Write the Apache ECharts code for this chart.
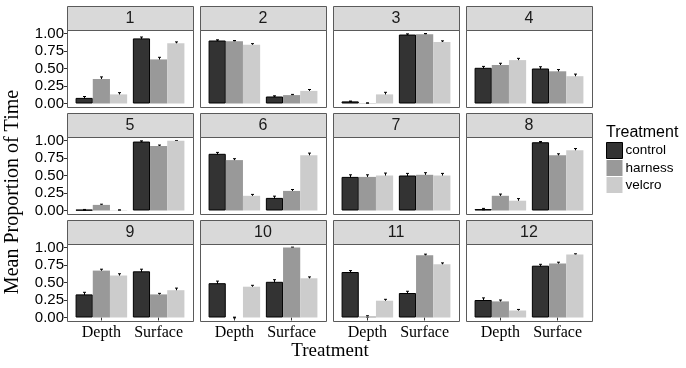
<!DOCTYPE html>
<html>
<head>
<meta charset="utf-8">
<script src="https://cdn.jsdelivr.net/npm/echarts@6.0.0/dist/echarts.min.js"></script>
<style>
  html, body { margin: 0; padding: 0; background: #fff; }
  #chart { width: 686px; height: 368px; }
</style>
</head>
<body>
<div id="chart"></div>
<script>
const panels = ['1', '2', '3', '4', '5', '6', '7', '8', '9', '10', '11', '12'];
const categories = ['Depth', 'Surface'];
const treatments = ['control', 'harness', 'velcro'];
const yTicks = ['0.00', '0.25', '0.50', '0.75', '1.00'];

// mean proportion per panel: [Depth, Surface]
const control = [[0.08, 0.93], [0.90, 0.10], [0.03, 0.985], [0.51, 0.50], [0.01, 0.985], [0.81, 0.18],
                 [0.48, 0.50], [0.02, 0.975], [0.33, 0.66], [0.49, 0.51], [0.65, 0.35], [0.25, 0.74]];
const harness = [[0.35, 0.63], [0.89, 0.12], [0.005, 0.99], [0.55, 0.46], [0.08, 0.92], [0.72, 0.28],
                 [0.48, 0.51], [0.21, 0.79], [0.67, 0.33], [0, 1.0], [0.015, 0.89], [0.23, 0.77]];
const velcro = [[0.13, 0.86], [0.84, 0.18], [0.13, 0.88], [0.62, 0.39], [0.005, 0.995], [0.21, 0.79],
                [0.50, 0.50], [0.14, 0.86], [0.60, 0.39], [0.44, 0.56], [0.24, 0.76], [0.10, 0.90]];

// standard errors, same layout
const controlSe = [[0.02, 0.02], [0.01, 0.01], [0.005, 0.01], [0.02, 0.025], [0.005, 0.01], [0.02, 0.025],
                   [0.03, 0.03], [0.01, 0.01], [0.03, 0.03], [0.03, 0.03], [0.02, 0.025], [0.03, 0.02]];
const harnessSe = [[0.03, 0.03], [0.01, 0.01], [0.005, 0.01], [0.025, 0.025], [0.01, 0.015], [0.02, 0.02],
                   [0.03, 0.03], [0.025, 0.02], [0.02, 0.015], [0.005, 0.005], [0.01, 0.015], [0.02, 0.02]];
const velcroSe = [[0.025, 0.02], [0.015, 0.02], [0.03, 0.015], [0.025, 0.03], [0.005, 0.005], [0.02, 0.03],
                  [0.035, 0.03], [0.03, 0.025], [0.025, 0.03], [0.02, 0.02], [0.02, 0.02], [0.015, 0.01]];

const means = [control, harness, velcro];
const ses = [controlSe, harnessSe, velcroSe];
const fills = ['#333333', '#999999', '#cccccc'];

const SANS = '"Liberation Sans", Arial, sans-serif';
const SERIF = '"Liberation Serif", "Times New Roman", serif';

// facet layout
const PANEL_W = 126;
const PLOT_H = 77;
const STRIP_H = 24;
const colX = [67, 200, 333, 466];
const rowY = [30, 137, 244];
const padX = PANEL_W * 0.1 / 2.2;   // ggplot discrete expansion
const padY = PLOT_H * 0.05 / 1.1;   // ggplot continuous expansion

const chart = echarts.init(document.getElementById('chart'));

const grids = [], xAxes = [], yAxes = [], series = [], graphics = [];

panels.forEach((label, p) => {
  const row = Math.floor(p / 4), col = p % 4;
  const px = colX[col], py = rowY[row];
  const bottomRow = row === 2, firstCol = col === 0;

  grids.push({
    left: px + padX, top: py + padY,
    width: PANEL_W - 2 * padX, height: PLOT_H - 2 * padY,
  });

  xAxes.push({
    type: 'category', gridIndex: p, data: categories,
    offset: padY,
    axisLine: { show: false },
    axisTick: { show: bottomRow, alignWithLabel: true, length: 3, lineStyle: { color: '#333' } },
    axisLabel: {
      show: bottomRow, interval: 0, hideOverlap: false,
      fontFamily: SERIF, fontSize: 16, color: '#000', margin: 4,
    },
    splitLine: { show: false },
  });

  yAxes.push({
    type: 'value', gridIndex: p, min: 0, max: 1, interval: 0.25,
    offset: padX,
    axisLine: { show: false },
    axisTick: { show: firstCol, length: 3, lineStyle: { color: '#333' } },
    axisLabel: {
      show: firstCol, fontFamily: SANS, fontSize: 15, color: '#000', margin: 3,
      formatter: (v) => yTicks[Math.round(v / 0.25)],
    },
    splitLine: { show: false },
  });

  treatments.forEach((t, i) => {
    series.push({
      name: t, type: 'bar', xAxisIndex: p, yAxisIndex: p,
      data: means[i][p],
      barWidth: '30%', barGap: '0%',
      itemStyle: {
        color: fills[i],
        borderColor: i === 0 ? '#000' : fills[i],
        borderWidth: i === 0 ? 1 : 0,
      },
      emphasis: { disabled: true },
    });
  });

  const errData = [];
  treatments.forEach((t, i) => {
    categories.forEach((c, k) => {
      errData.push([k, means[i][p][k], ses[i][p][k], i]);
    });
  });
  series.push({
    name: 'se', type: 'custom', xAxisIndex: p, yAxisIndex: p, clip: false,
    data: errData,
    renderItem: (params, api) => {
      const k = api.value(0), m = api.value(1), se = api.value(2), i = api.value(3);
      const band = api.size([1, 0])[0];
      const cx = Math.round(api.coord([k, m])[0] + (i - 1) * band * 0.3) + 0.5;
      const y0 = api.coord([k, m - se])[1];
      const y1 = api.coord([k, m + se])[1];
      const st = { stroke: '#000', lineWidth: 1 };
      return {
        type: 'group',
        children: [
          { type: 'line', shape: { x1: cx, y1: y0, x2: cx, y2: y1 }, style: st },
          { type: 'line', shape: { x1: cx - 1.5, y1: y0, x2: cx + 1.5, y2: y0 }, style: st },
          { type: 'line', shape: { x1: cx - 1.5, y1: y1, x2: cx + 1.5, y2: y1 }, style: st },
        ],
      };
    },
  });

  // strip and panel border
  graphics.push({
    type: 'rect', z: 100,
    shape: { x: px + 0.5, y: py - STRIP_H + 0.5, width: PANEL_W, height: STRIP_H },
    style: { fill: '#d9d9d9', stroke: '#5a5a5a', lineWidth: 1 },
  });
  graphics.push({
    type: 'text', z: 101,
    style: {
      text: label, x: px + PANEL_W / 2, y: py - STRIP_H / 2 + 1,
      textAlign: 'center', textVerticalAlign: 'middle',
      font: '16px ' + SANS, fill: '#1a1a1a',
    },
  });
  graphics.push({
    type: 'rect', z: 100,
    shape: { x: px + 0.5, y: py + 0.5, width: PANEL_W, height: PLOT_H },
    style: { fill: null, stroke: '#5a5a5a', lineWidth: 1 },
  });
});

graphics.push({
  type: 'text',
  x: 13, y: 192, rotation: Math.PI / 2,
  style: {
    text: 'Mean Proportion of Time', textAlign: 'center', textVerticalAlign: 'middle',
    font: '20px ' + SERIF, fill: '#000',
  },
});
graphics.push({
  type: 'text',
  style: {
    text: 'Treatment', x: 330, y: 351, textAlign: 'center', textVerticalAlign: 'middle',
    font: '19px ' + SERIF, fill: '#000',
  },
});
graphics.push({
  type: 'text',
  style: {
    text: 'Treatment', x: 606, y: 133, textAlign: 'left', textVerticalAlign: 'middle',
    font: '16px ' + SANS, fill: '#000',
  },
});

const option = {
  animation: false,
  backgroundColor: '#fff',
  grid: grids,
  xAxis: xAxes,
  yAxis: yAxes,
  legend: {
    data: treatments.map((t, i) => ({
      name: t,
      itemStyle: i === 0 ? { borderColor: '#000', borderWidth: 1 } : { borderWidth: 0 },
    })),
    orient: 'vertical',
    left: 606, top: 142,
    padding: 0,
    itemWidth: 16, itemHeight: 16, itemGap: 1,
    icon: 'rect',
    selectedMode: false,
    textStyle: { fontFamily: SANS, fontSize: 13.5, color: '#000', padding: [0, 0, 0, -2] },
  },
  series: series,
  graphic: graphics,
};

chart.setOption(option);

window.addEventListener('resize', () => chart.resize());
</script>
</body>
</html>
